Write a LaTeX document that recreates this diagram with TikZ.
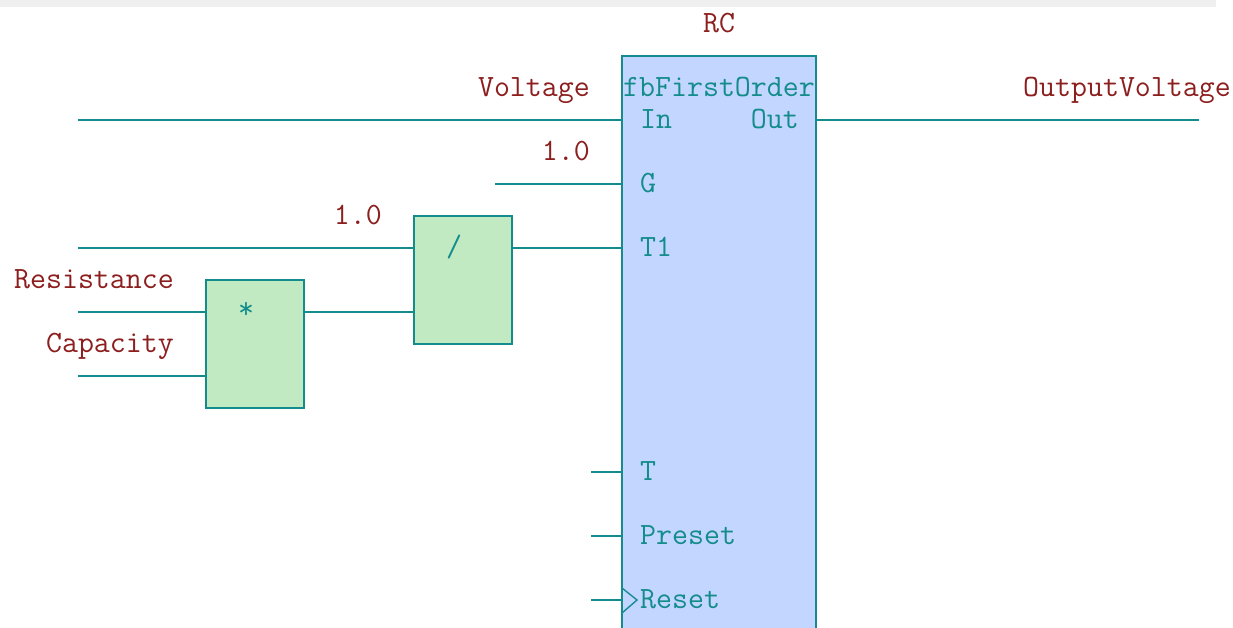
\documentclass[tikz,border=0pt]{standalone}
\usepackage{tikz}
\definecolor{wirecol}{RGB}{20,140,140}
\definecolor{varcol}{RGB}{140,30,30}
\definecolor{fbfill}{RGB}{195,214,255}
\definecolor{opfill}{RGB}{194,234,194}
\definecolor{barcol}{RGB}{239,239,239}
\newcommand{\mytext}{\fontsize{31}{31}\selectfont\ttfamily}
\tikzset{
    wire/.style={draw=wirecol, line width=2pt},
    varname/.style={text=varcol, font=\mytext, inner sep=0pt, anchor=base east},
    pinname/.style={text=wirecol, font=\mytext, inner sep=0pt, anchor=base west},
    opblock/.style={draw=wirecol, fill=opfill, line width=2pt, inner sep=0pt, anchor=north west},
    fbblock/.style={draw=wirecol, fill=fbfill, line width=2pt, inner sep=0pt, anchor=north west},
}
\begin{document}
\begin{tikzpicture}[x=1pt, y=-1pt]

    \clip (0,0) rectangle (1233,627);
    \useasboundingbox (0,0) rectangle (1233,627);

    \fill[barcol] (0,0) rectangle (1216,7);

    % blocks
    \node[fbblock, minimum width=194pt, minimum height=640pt] (fb) at (621,55) {};
    \node[opblock, minimum width=98pt, minimum height=128pt] (div) at (413,215) {};
    \node[opblock, minimum width=98pt, minimum height=128pt] (mul) at (204.5,279) {};

    % free ends of the wires
    \coordinate (inV) at (78,120);
    \coordinate (pinIn) at (622,120);
    \coordinate (pinOut) at (816,120);
    \coordinate (outV) at (1199,120);
    \coordinate (inG) at (495,184);
    \coordinate (pinG) at (622,184);
    \coordinate (divOut) at (512,248);
    \coordinate (pinT1) at (622,248);
    \coordinate (inOne) at (78,248);
    \coordinate (divA) at (414,248);
    \coordinate (mulOut) at (304,312);
    \coordinate (divB) at (414,312);
    \coordinate (inR) at (78,312);
    \coordinate (mulA) at (205,312);
    \coordinate (inC) at (78,376);
    \coordinate (mulB) at (205,376);
    \coordinate (inT) at (591,472);
    \coordinate (pinT) at (622,472);
    \coordinate (inP) at (591,536);
    \coordinate (pinP) at (622,536);
    \coordinate (inReset) at (591,600);
    \coordinate (pinReset) at (622,600);
    \coordinate (edgeA) at (622,588);
    \coordinate (edgeB) at (637,600);
    \coordinate (edgeC) at (622,613);

    % wires
    \draw[wire] (inV) -- (pinIn);
    \draw[wire] (pinOut) -- (outV);
    \draw[wire] (inG) -- (pinG);
    \draw[wire] (divOut) -- (pinT1);
    \draw[wire] (inOne) -- (divA);
    \draw[wire] (mulOut) -- (divB);
    \draw[wire] (inR) -- (mulA);
    \draw[wire] (inC) -- (mulB);
    \draw[wire] (inT) -- (pinT);
    \draw[wire] (inP) -- (pinP);
    \draw[wire] (inReset) -- (pinReset);
    \draw[draw=wirecol, line width=1.4pt] (edgeA) -- (edgeB) -- (edgeC);

    % variable names
    \node[varname, anchor=base] (nameRC) at (719,32) {RC};
    \node[varname] (nameV) at (590,96) {Voltage};
    \node[varname, anchor=base west] (nameOut) at (1023,96) {OutputVoltage};
    \node[varname] (nameG) at (590,160) {1.0};
    \node[varname] (nameOne) at (382,224) {1.0};
    \node[varname] (nameR) at (174,288) {Resistance};
    \node[varname] (nameC) at (174,352) {Capacity};

    % pin names
    \node[pinname, anchor=base] (title) at (719,96) {fbFirstOrder};
    \node[pinname] (labIn) at (640,128) {In};
    \node[pinname, anchor=base east] (labOut) at (799,128) {Out};
    \node[pinname] (labG) at (640,192) {G};
    \node[pinname] (labT1) at (640,256) {T1};
    \node[pinname] (labT) at (640,480) {T};
    \node[pinname] (labP) at (640,544) {Preset};
    \node[pinname] (labR) at (640,608) {Reset};
    \node[pinname, anchor=base] (opDiv) at (454,256) {/};
    \node[pinname, anchor=base] (opMul) at (246,318) {*};

\end{tikzpicture}
\end{document}
